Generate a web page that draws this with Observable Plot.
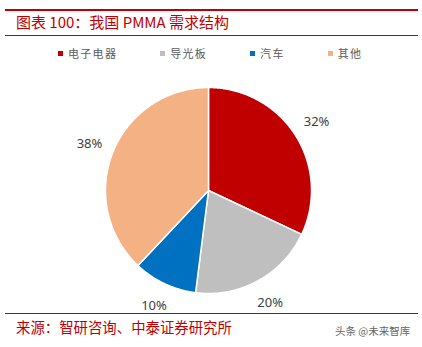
<!DOCTYPE html>
<html>
<head>
<meta charset="utf-8">
<script src="https://cdn.jsdelivr.net/npm/d3@7"></script>
<script src="https://cdn.jsdelivr.net/npm/@observablehq/plot@0.6"></script>
<style>
  html, body { margin: 0; padding: 0; background: #fff; }
  #wrap { position: relative; width: 422px; height: 347px; overflow: hidden; font-family: "Noto Sans CJK SC", "Noto Sans", sans-serif; }
  .rule { position: absolute; left: 5px; width: 413px; background: #C00000; }
  #title { position: absolute; left: 16px; top: 12px; font-size: 15px; line-height: 20px; color: #C00000; white-space: nowrap; }
  #legend { position: absolute; left: 58px; top: 45px; display: flex; gap: 43px; font-size: 11px; line-height: 16px; color: #595959; letter-spacing: 1.3px; white-space: nowrap; }
  #legend .item { display: flex; align-items: center; }
  #legend .sw { width: 5px; height: 5px; margin-right: 5px; }
  #chart { position: absolute; left: 0; top: 65px; }
  #source { position: absolute; left: 16px; top: 317px; font-size: 14.4px; line-height: 20px; color: #C00000; white-space: nowrap; }
  #mark { position: absolute; left: 335px; top: 323px; font-size: 10.5px; line-height: 16px; color: #666; white-space: nowrap; }
</style>
</head>
<body>
<div id="wrap">
  <div class="rule" style="top:9px;height:2px"></div>
  <div id="title">图表 100：我国 PMMA 需求结构</div>
  <div class="rule" style="top:35px;height:1px"></div>
  <div id="legend"></div>
  <div id="chart"></div>
  <div class="rule" style="top:313px;height:1px"></div>
  <div id="source">来源：智研咨询、中泰证券研究所</div>
  <div id="mark">头条 @未来智库</div>
</div>
<script>
const categories = ["电子电器", "导光板", "汽车", "其他"];
const shares = [32, 20, 10, 38];
const labels = ["32%", "20%", "10%", "38%"];
const colors = ["#C00000", "#BFBFBF", "#0070C0", "#F4B183"];

const R = 103, LR = 128;
const pie = d3.pie().sort(null).value(d => d)(shares);

// polygons for each slice (angles clockwise from 12 o'clock)
const pts = [];
pie.forEach((p, i) => {
  const c = categories[i];
  pts.push({cat: c, x: 0, y: 0});
  const n = Math.max(2, Math.ceil((p.endAngle - p.startAngle) / 0.01));
  for (let k = 0; k <= n; k++) {
    const a = p.startAngle + (p.endAngle - p.startAngle) * k / n;
    pts.push({cat: c, x: R * Math.sin(a), y: R * Math.cos(a)});
  }
});
const labelData = pie.map((p, i) => {
  const a = (p.startAngle + p.endAngle) / 2;
  return {text: labels[i], x: LR * Math.sin(a), y: LR * Math.cos(a)};
});

const chart = Plot.plot({
  width: 422, height: 250,
  margin: 0,
  x: {domain: [-208, 214], axis: null},
  y: {domain: [-125, 125], axis: null},
  color: {domain: categories, range: colors},
  style: {fontFamily: "'Noto Sans', 'Open Sans', sans-serif", background: "transparent"},
  marks: [
    Plot.line(pts, {x: "x", y: "y", z: "cat", fill: "cat", stroke: "white", strokeWidth: 1.5, curve: "linear-closed", strokeLinejoin: "round"}),
    Plot.text(labelData, {x: "x", y: "y", text: "text", fontSize: 13, fill: "#404040", textAnchor: "middle", lineAnchor: "middle"})
  ]
});
document.getElementById("chart").appendChild(chart);

const legend = document.getElementById("legend");
categories.forEach((c, i) => {
  const it = document.createElement("div");
  it.className = "item";
  const sw = document.createElement("span");
  sw.className = "sw";
  sw.style.background = colors[i];
  const t = document.createElement("span");
  t.textContent = c;
  it.appendChild(sw); it.appendChild(t);
  legend.appendChild(it);
});
</script>
</body>
</html>
